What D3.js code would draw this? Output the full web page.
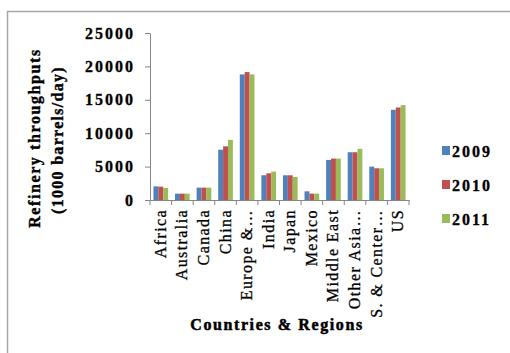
<!DOCTYPE html>
<html>
<head>
<meta charset="utf-8">
<script src="https://cdn.jsdelivr.net/npm/d3@7"></script>
<style>
  body { margin: 0; background: #fff; }
  svg { display: block; font-family: "Liberation Serif", "Times New Roman", serif; }
</style>
</head>
<body>
<svg id="chart"></svg>
<script>
const categories = ["Africa", "Australia", "Canada", "China", "Europe &\u2026", "India",
  "Japan", "Mexico", "Middle East", "Other Asia\u2026", "S. & Center\u2026", "US"];
const years = ["2009", "2010", "2011"];
const values2009 = [2040, 950, 1850, 7530, 18800, 3700, 3700, 1300, 6000, 7150, 5000, 13500];
const values2010 = [2000, 950, 1850, 8030, 19150, 3990, 3700, 950, 6200, 7150, 4750, 13850];
const values2011 = [1800, 950, 1850, 9000, 18800, 4250, 3450, 950, 6200, 7650, 4750, 14200];
const yTicks = [0, 5000, 10000, 15000, 20000, 25000];
const colors = ["#4F81BD", "#C0504D", "#9BBB59"];

const series = [values2009, values2010, values2011];

const w = 510;
const h = 353;
const plotLeft = 150, plotRight = 409, plotTop = 33, plotBottom = 200;

const svg = d3.select("#chart").attr("width", w).attr("height", h);

// outer chart border (runs off the right and bottom)
svg.append("rect")
  .attr("x", 7.5).attr("y", 11.5)
  .attr("width", 700).attr("height", 500)
  .attr("fill", "none")
  .attr("stroke", "#a6a6a6")
  .attr("stroke-width", 1.5);

const x0 = d3.scaleBand().domain(categories).range([plotLeft, plotRight]).padding(0);
const x1 = d3.scaleBand().domain(years)
  .range([x0.bandwidth() * 0.16, x0.bandwidth() * 0.84]).padding(0);
const y = d3.scaleLinear().domain([0, 25000]).range([plotBottom, plotTop]);
const color = d3.scaleOrdinal().domain(years).range(colors);

// bars
const groups = svg.append("g")
  .selectAll("g")
  .data(categories)
  .enter()
  .append("g")
  .attr("transform", (d) => "translate(" + x0(d) + ",0)");

groups.selectAll("rect")
  .data((d, i) => years.map((yr, k) => ({ year: yr, value: series[k][i] })))
  .enter()
  .append("rect")
  .attr("x", (d) => x1(d.year))
  .attr("y", (d) => y(d.value))
  .attr("width", x1.bandwidth())
  .attr("height", (d) => plotBottom - y(d.value))
  .attr("fill", (d) => color(d.year));

// y axis
const yAxis = svg.append("g")
  .attr("transform", "translate(" + plotLeft + ",0)")
  .call(d3.axisLeft(y).tickValues(yTicks).tickFormat(d3.format("d")).tickSizeInner(5).tickSizeOuter(0).tickPadding(10));
yAxis.select(".domain").attr("stroke", "#868686");
yAxis.selectAll(".tick line").attr("stroke", "#868686");
yAxis.selectAll("text")
  .attr("font-size", 16)
  .attr("font-weight", "bold")
  .attr("letter-spacing", 2)
  .attr("fill", "#000")
  .attr("stroke", "#000")
  .attr("stroke-width", 0.3)
  .attr("font-family", "Liberation Serif, serif");

// x axis: labels at band centres, tick marks at band boundaries
const xAxis = svg.append("g")
  .attr("transform", "translate(0," + plotBottom + ")")
  .call(d3.axisBottom(x0).tickSizeInner(0).tickSizeOuter(0));
xAxis.select(".domain").attr("stroke", "#868686");
xAxis.selectAll("text")
  .attr("transform", "rotate(-90)")
  .attr("x", -9)
  .attr("y", 5)
  .attr("dy", null)
  .attr("text-anchor", "end")
  .attr("font-size", 16)
  .attr("letter-spacing", 1.4)
  .attr("fill", "#000")
  .attr("stroke", "#000")
  .attr("stroke-width", 0.3)
  .attr("font-family", "Liberation Serif, serif");

const bounds = categories.map((c) => x0(c)).concat([x0.range()[1]]);
svg.append("g")
  .selectAll("line")
  .data(bounds)
  .enter()
  .append("line")
  .attr("x1", (d) => d).attr("x2", (d) => d)
  .attr("y1", plotBottom).attr("y2", plotBottom + 5)
  .attr("stroke", "#868686");

// axis titles
svg.append("text")
  .attr("transform", "translate(40,138) rotate(-90)")
  .attr("text-anchor", "middle")
  .attr("font-size", 16)
  .attr("font-weight", "bold")
  .attr("letter-spacing", 1.6)
  .attr("stroke", "#000")
  .attr("stroke-width", 0.4)
  .text("Refinery throughputs");
svg.append("text")
  .attr("transform", "translate(63,140) rotate(-90)")
  .attr("text-anchor", "middle")
  .attr("font-size", 16)
  .attr("font-weight", "bold")
  .attr("letter-spacing", 1.3)
  .attr("stroke", "#000")
  .attr("stroke-width", 0.4)
  .text("(1000 barrels/day)");

svg.append("text")
  .attr("x", 277)
  .attr("y", 330)
  .attr("text-anchor", "middle")
  .attr("font-size", 16)
  .attr("font-weight", "bold")
  .attr("letter-spacing", 1.6)
  .attr("stroke", "#000")
  .attr("stroke-width", 0.5)
  .text("Countries & Regions");

// legend
const legend = svg.append("g")
  .selectAll("g")
  .data(years)
  .enter()
  .append("g")
  .attr("transform", (d, i) => "translate(442," + (146 + i * 34) + ")");
legend.append("rect")
  .attr("width", 8).attr("height", 9)
  .attr("fill", (d) => color(d));
legend.append("text")
  .attr("x", 10)
  .attr("y", 11)
  .attr("font-size", 16)
  .attr("font-weight", "bold")
  .attr("letter-spacing", 2)
  .attr("stroke", "#000")
  .attr("stroke-width", 0.3)
  .text((d) => d);
</script>
</body>
</html>
